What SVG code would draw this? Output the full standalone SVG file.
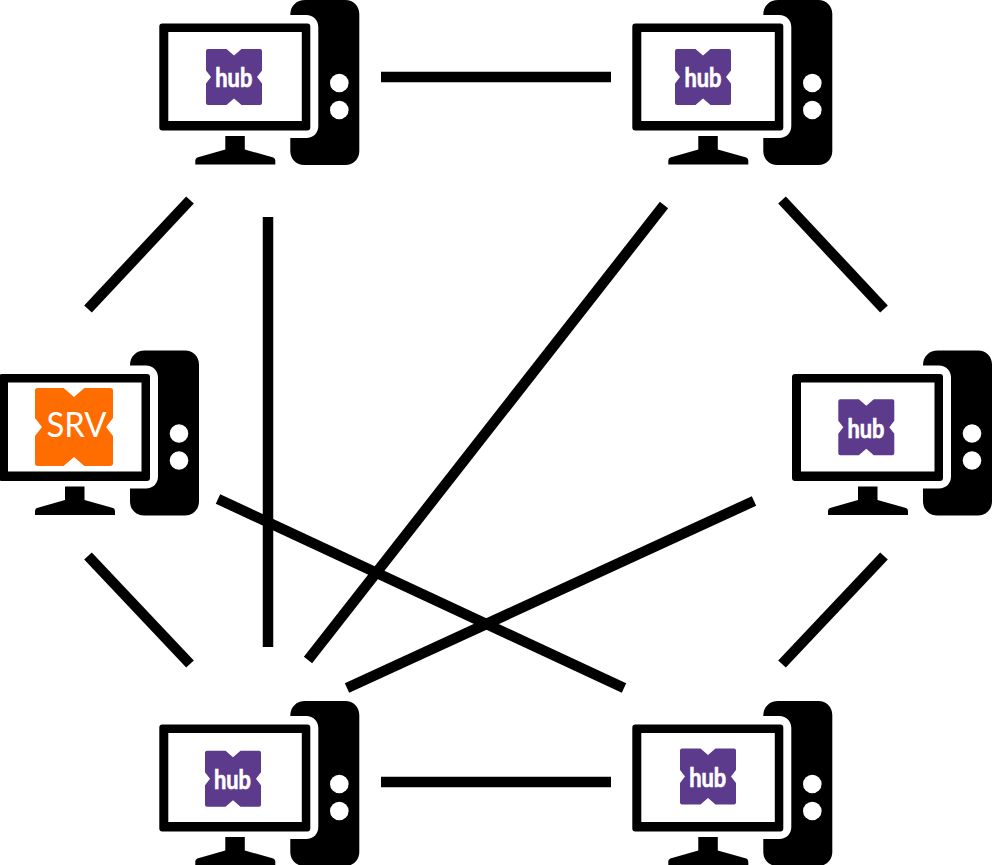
<svg xmlns="http://www.w3.org/2000/svg" xmlns:xlink="http://www.w3.org/1999/xlink" width="992" height="865" viewBox="0 0 992 865">
<style>
.conn{stroke:#000;stroke-width:10.500;fill:none}
.hub{fill:#5c3b8c}
.srv{fill:#ff6c00}
.hubt{font-family:"Lato","Liberation Sans",sans-serif;font-weight:700;font-size:27px;fill:#fff;stroke:#fff;stroke-width:.7;text-anchor:middle}
.srvt{font-family:"Lato","Liberation Sans",sans-serif;font-size:34px;fill:#fff;text-anchor:middle}
</style>
<defs>
<g id="pc">
<path fill="#000" d="M290 15C290 6 296 0 305 0H345C353 0 359 6 359 14V151C359 159 353 165 345 165H304C296 165 290 159 290 151V138H306C313 138 318 133 318 126V27C318 20 313 15 306 15Z"/>
<circle cx="339" cy="83" r="9.300" fill="#fff"/>
<circle cx="339" cy="110" r="9.300" fill="#fff"/>
<path fill="#000" fill-rule="evenodd" d="M162 23.500H307Q310 23.500 310 26.500V127.500Q310 130.500 307 130.500H162Q159 130.500 159 127.500V26.500Q159 23.500 162 23.500ZM168 32V121H301.500V32Z"/>
<path fill="#000" d="M225 136H244.500V149.500L273 157.500Q275 158.500 275 160.500V164.500H195V160.500Q195 158.500 197 157.500L225 149.500Z"/>
</g>
<path id="mark" d="M2 0H20.500L28 6.500L35.500 0H54Q56 0 56 2V21.500L51 28L56 34.500V54Q56 56 54 56H35.500L28 49.500L20.500 56H2Q0 56 0 54V34.500L5 28L0 21.500V2Q0 0 2 0Z"/>
</defs>
<rect width="992" height="865" fill="#fff"/>
<g id="connectors" class="conn">
<line x1="381" y1="77" x2="611" y2="77"/>
<line x1="381" y1="782" x2="611" y2="782"/>
<line x1="190" y1="200" x2="88" y2="309"/>
<line x1="268" y1="217" x2="268" y2="647"/>
<line x1="664" y1="205" x2="308" y2="660"/>
<line x1="782" y1="200" x2="884" y2="309"/>
<line x1="88" y1="556" x2="190" y2="664"/>
<line x1="884" y1="556" x2="782" y2="664"/>
<line x1="218" y1="499" x2="624" y2="688"/>
<line x1="754" y1="501" x2="347" y2="688"/>
</g>
<g id="node-top-left" transform="translate(.3 0)"><use href="#pc"/><use href="#mark" class="hub" x="205.700" y="49"/><text class="hubt" x="233.500" y="87.300" textLength="37" lengthAdjust="spacingAndGlyphs">hub</text></g>
<g id="node-top-right" transform="translate(473.300 0)"><use href="#pc"/><use href="#mark" class="hub" x="201.700" y="49"/><text class="hubt" x="229.700" y="87.300" textLength="37" lengthAdjust="spacingAndGlyphs">hub</text></g>
<g id="node-left" transform="translate(-160 350.500)"><use href="#pc"/><use href="#mark" class="srv" transform="translate(195 37.500) scale(1.393)"/><text class="srvt" x="236.500" y="86.500" textLength="60" lengthAdjust="spacingAndGlyphs">SRV</text></g>
<g id="node-right" transform="translate(633 350.500)"><use href="#pc"/><use href="#mark" class="hub" x="205.300" y="48.800"/><text class="hubt" x="233" y="87" textLength="37" lengthAdjust="spacingAndGlyphs">hub</text></g>
<g id="node-bottom-left" transform="translate(.3 701)"><use href="#pc"/><use href="#mark" class="hub" x="204.700" y="49.700"/><text class="hubt" x="232.200" y="87.700" textLength="37" lengthAdjust="spacingAndGlyphs">hub</text></g>
<g id="node-bottom-right" transform="translate(473.300 701)"><use href="#pc"/><use href="#mark" class="hub" x="206.700" y="47.500"/><text class="hubt" x="234.400" y="85.500" textLength="37" lengthAdjust="spacingAndGlyphs">hub</text></g>
</svg>
